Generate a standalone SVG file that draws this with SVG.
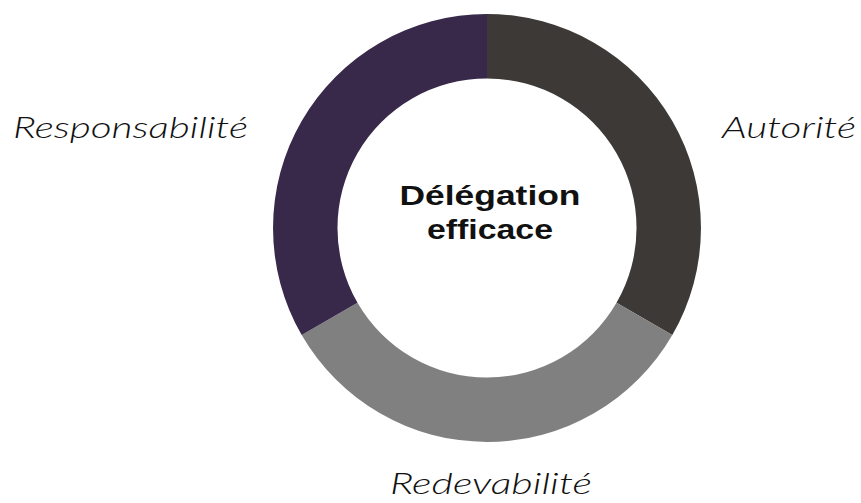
<svg xmlns="http://www.w3.org/2000/svg" width="861" height="503" viewBox="0 0 861 503">
<style>
.lbl{font-family:"Lato","Open Sans","Liberation Sans",sans-serif;font-style:italic;font-weight:300;font-size:30px;fill:#111}
.ctr{font-family:"Liberation Sans","Arial",sans-serif;font-weight:700;font-size:28px;fill:#111;text-anchor:middle}
</style>
<rect width="861" height="503" fill="#fff"/>
<g id="ring">
<g id="autorite-seg"><path d="M487,14 A214,214 0 0 1 672.3,335 L616.5,302.75 A149.5,149.5 0 0 0 487,78.5 Z" fill="#3d3937"/></g>
<g id="redevabilite-seg"><path d="M672.3,335 A214,214 0 0 1 301.7,335 L357.5,302.75 A149.5,149.5 0 0 0 616.5,302.75 Z" fill="#808080"/></g>
<g id="responsabilite-seg"><path d="M301.7,335 A214,214 0 0 1 487,14 L487,78.5 A149.5,149.5 0 0 0 357.5,302.75 Z" fill="#38284a"/></g>
</g>
<g id="center">
<text class="ctr" x="490" y="205" textLength="181" lengthAdjust="spacingAndGlyphs">Délégation</text>
<text class="ctr" x="490" y="239" textLength="126" lengthAdjust="spacingAndGlyphs">efficace</text>
</g>
<g id="label-responsabilite"><text class="lbl" x="13" y="138" textLength="235" lengthAdjust="spacingAndGlyphs">Responsabilité</text></g>
<g id="label-autorite"><text class="lbl" x="722" y="138" textLength="134" lengthAdjust="spacingAndGlyphs">Autorité</text></g>
<g id="label-redevabilite"><text class="lbl" x="390" y="494" textLength="202" lengthAdjust="spacingAndGlyphs">Redevabilité</text></g>
<g id="connectors"/>
</svg>
